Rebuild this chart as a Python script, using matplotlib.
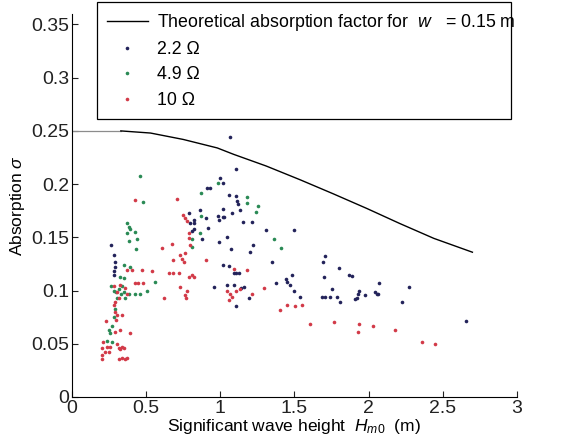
import matplotlib
matplotlib.use('Agg')
import matplotlib.pyplot as plt
import numpy as np

plt.rcParams['font.family'] = ['Liberation Sans', 'DejaVu Sans']
plt.rcParams['mathtext.fontset'] = 'custom'
plt.rcParams['mathtext.rm'] = 'Liberation Sans'
plt.rcParams['mathtext.it'] = 'Liberation Sans:italic'

# theoretical curve
h_theory = [0.0, 0.33, 0.53, 0.75, 0.98, 1.09, 1.31, 1.54, 1.76, 1.99, 2.21, 2.44, 2.70]
a_theory = [0.250, 0.250, 0.248, 0.242, 0.234, 0.228, 0.217, 0.204, 0.191, 0.177, 0.163, 0.149, 0.136]

# 2.2 Ohm
h_22 = [1.067, 1.103, 0.996, 1.022, 0.910, 0.928, 1.056, 1.103, 1.112, 1.117, 0.861, 1.018,
        1.130, 1.079, 0.787, 0.982, 1.018, 0.902, 1.027, 0.825, 0.793, 0.825, 0.991, 1.153,
        1.213, 0.820, 0.917, 0.809, 1.306, 1.494, 0.879, 1.045, 0.991, 1.220, 1.198, 1.072,
        0.267, 1.348, 1.692, 1.708, 0.281, 0.292, 0.292, 0.281, 0.281, 1.018, 1.058, 1.798,
        1.865, 1.890, 1.373, 1.445, 1.483, 1.449, 1.472, 1.499, 1.535, 2.067, 2.270, 1.702,
        1.753, 1.708, 1.685, 1.742, 1.787, 1.805, 1.933, 1.926, 1.921, 1.910, 1.978, 2.045,
        2.061, 2.054, 2.225, 2.660, 0.955, 1.090, 1.108, 1.124, 1.139, 1.157, 1.191, 1.103,
        1.045, 1.090]
a_22 = [0.244, 0.214, 0.206, 0.201, 0.196, 0.196, 0.190, 0.189, 0.184, 0.181, 0.176, 0.177,
        0.176, 0.173, 0.173, 0.170, 0.169, 0.168, 0.169, 0.166, 0.163, 0.163, 0.166, 0.164,
        0.164, 0.158, 0.159, 0.156, 0.157, 0.157, 0.148, 0.150, 0.146, 0.143, 0.136, 0.139,
        0.143, 0.127, 0.127, 0.132, 0.133, 0.127, 0.122, 0.118, 0.115, 0.124, 0.123, 0.121,
        0.115, 0.114, 0.107, 0.111, 0.115, 0.108, 0.105, 0.100, 0.094, 0.107, 0.103, 0.113,
        0.101, 0.094, 0.094, 0.094, 0.094, 0.089, 0.100, 0.097, 0.093, 0.092, 0.096, 0.099,
        0.097, 0.097, 0.089, 0.071, 0.103, 0.116, 0.116, 0.116, 0.102, 0.103, 0.093, 0.085,
        0.105, 0.105]

# 4.9 Ohm
h_49 = [0.456, 0.481, 0.870, 0.982, 1.180, 1.180, 1.258, 1.238, 0.870, 0.861, 0.811, 0.809,
        1.360, 1.410, 0.427, 0.371, 0.382, 0.389, 0.438, 0.371, 0.382, 0.434, 0.348, 0.389,
        0.326, 0.348, 0.382, 0.427, 0.461, 0.506, 0.562, 0.265, 0.281, 0.299, 0.315, 0.330,
        0.348, 0.360, 0.337, 0.303, 0.292, 0.281, 0.270, 0.247, 0.258, 0.236, 0.270]
a_49 = [0.208, 0.183, 0.192, 0.201, 0.188, 0.182, 0.179, 0.174, 0.170, 0.154, 0.148, 0.141,
        0.148, 0.140, 0.155, 0.163, 0.160, 0.158, 0.148, 0.154, 0.147, 0.139, 0.124, 0.122,
        0.113, 0.112, 0.097, 0.097, 0.097, 0.100, 0.108, 0.104, 0.100, 0.099, 0.101, 0.097,
        0.099, 0.093, 0.104, 0.093, 0.083, 0.075, 0.067, 0.063, 0.060, 0.053, 0.052]

# 10 Ohm
h_10 = [0.427, 0.708, 0.472, 0.404, 0.371, 0.427, 0.449, 0.479, 0.539, 0.618, 0.607, 0.676,
        0.685, 0.652, 0.685, 0.719, 0.730, 0.742, 0.753, 0.764, 0.748, 0.764, 0.775, 0.787,
        0.787, 0.798, 0.787, 0.809, 0.820, 0.730, 0.775, 0.764, 0.771, 0.906, 1.180, 1.090,
        1.045, 1.067, 1.079, 1.058, 1.108, 1.135, 1.213, 1.297, 1.400, 1.449, 1.506, 1.551,
        1.602, 1.769, 1.933, 1.926, 2.029, 2.180, 2.360, 2.449,
        0.202, 0.202, 0.202, 0.213, 0.225, 0.236, 0.231, 0.247, 0.258, 0.292, 0.303, 0.315,
        0.326, 0.337, 0.348, 0.321, 0.337, 0.360, 0.371, 0.326, 0.389, 0.292, 0.281, 0.292,
        0.303, 0.299, 0.315, 0.303, 0.281, 0.326, 0.360, 0.371, 0.337]
a_10 = [0.185, 0.186, 0.119, 0.119, 0.119, 0.107, 0.107, 0.107, 0.118, 0.093, 0.140, 0.144,
        0.129, 0.116, 0.116, 0.116, 0.133, 0.130, 0.127, 0.135, 0.171, 0.168, 0.165, 0.154,
        0.149, 0.143, 0.113, 0.115, 0.113, 0.103, 0.100, 0.096, 0.093, 0.129, 0.119, 0.120,
        0.100, 0.097, 0.094, 0.091, 0.100, 0.101, 0.097, 0.102, 0.082, 0.086, 0.085, 0.086,
        0.069, 0.070, 0.069, 0.061, 0.067, 0.063, 0.052, 0.050,
        0.046, 0.039, 0.036, 0.052, 0.042, 0.047, 0.071, 0.042, 0.047, 0.061, 0.050, 0.046,
        0.045, 0.047, 0.046, 0.036, 0.037, 0.036, 0.037, 0.063, 0.060, 0.089, 0.086, 0.080,
        0.077, 0.072, 0.093, 0.099, 0.104, 0.105, 0.102, 0.097, 0.077]

c_22 = '#23235a'
c_49 = '#2a8a55'
c_10 = '#d23a48'

fig = plt.figure(figsize=(5.75, 4.47), dpi=100)
ax = fig.add_axes([0.125, 0.112, 0.774, 0.857])

ax.plot(h_theory[:2], a_theory[:2], color='0.55', lw=0.9)
ax.plot(h_theory[1:], a_theory[1:], color='black', lw=1.0)
line, = ax.plot([], [], color='black', lw=1.0)
s1, = ax.plot(h_22, a_22, ls='none', marker='o', ms=2.6, mew=0, color=c_22)
s2, = ax.plot(h_49, a_49, ls='none', marker='o', ms=2.6, mew=0, color=c_49)
s3, = ax.plot(h_10, a_10, ls='none', marker='o', ms=2.6, mew=0, color=c_10)

ax.set_xlim(0, 3)
ax.set_ylim(0, 0.36)
ax.set_xticks([0, 0.5, 1, 1.5, 2, 2.5, 3])
ax.set_xticklabels(['0', '0.5', '1', '1.5', '2', '2.5', '3'])
ax.set_yticks([0, 0.05, 0.1, 0.15, 0.2, 0.25, 0.3, 0.35])
ax.set_yticklabels(['0', '0.05', '0.1', '0.15', '0.2', '0.25', '0.3', '0.35'])
ax.tick_params(direction='in', labelsize=14, length=4, width=0.8, colors='#222222', pad=2)
ax.spines['top'].set_visible(False)
ax.spines['right'].set_visible(False)
ax.set_xlabel('Significant wave height  $H_{m0}$  (m)', fontsize=12.5, labelpad=0)
ax.set_ylabel('Absorption $\\sigma$', fontsize=12.5, labelpad=3)

leg = fig.legend([line, s1, s2, s3],
                 ['Theoretical absorption factor for  $w$   = 0.15 m', '2.2 Ω', '4.9 Ω', '10 Ω'],
                 loc='upper left', bbox_to_anchor=(97 / 575, 1 - 117 / 447, 414 / 575, 115 / 447),
                 mode='expand', fontsize=12.8, frameon=True, fancybox=False,
                 edgecolor='black', framealpha=1, borderaxespad=0, handlelength=2.3,
                 labelspacing=0.47, borderpad=0.55, handletextpad=0.5, markerscale=1.0)
leg.get_frame().set_linewidth(0.9)

fig.savefig('out.png', dpi=100)
